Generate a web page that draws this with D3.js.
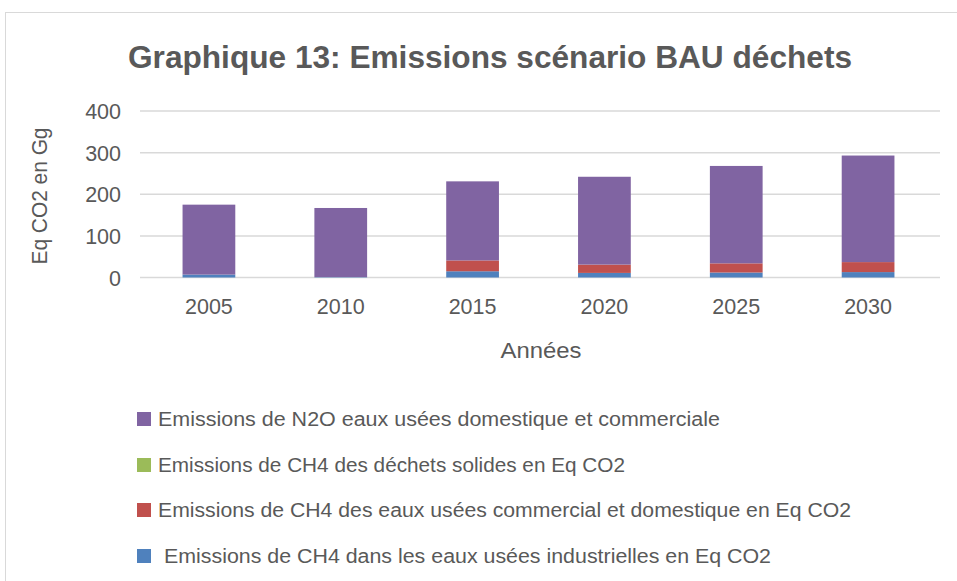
<!DOCTYPE html>
<html><head><meta charset="utf-8">
<script src="https://cdn.jsdelivr.net/npm/d3@7"></script>
<style>body{margin:0;background:#fff}svg{display:block}text{font-family:"Liberation Sans","DejaVu Sans",sans-serif;fill:#595959}</style>
</head><body>
<svg id="c" width="957" height="581"></svg>
<script>
const years = ["2005","2010","2015","2020","2025","2030"];
const seriesNames = [
  " Emissions de CH4 dans les eaux usées industrielles en Eq CO2",
  "Emissions de CH4 des eaux usées commercial et domestique en Eq CO2",
  "Emissions de CH4 des déchets solides en Eq CO2",
  "Emissions de N2O eaux usées domestique et commerciale"
];
const industrial = [7, 1, 15, 11, 12, 13];
const domestic   = [0, 0, 26, 20, 22, 24];
const solid      = [0, 0, 0, 0, 0, 0];
const n2o        = [168, 166, 190, 211, 234, 256];
const colors = ["#4f81bd", "#c0504d", "#9bbb59", "#8064a2"];
const yTicks = [0, 100, 200, 300, 400];

const svg = d3.select("#c");
svg.append("rect").attr("x",5.5).attr("y",12.5).attr("width",1000).attr("height",700)
  .attr("fill","#fff").attr("stroke","#d9d9d9");

const x = d3.scaleBand().domain(years).range([143, 934]).paddingInner(0.6).paddingOuter(0.3);
const y = d3.scaleLinear().domain([0, 400]).range([277.5, 111]);

// gridlines
svg.append("g").selectAll("line").data(yTicks).join("line")
  .attr("x1", 140).attr("x2", 940).attr("y1", d => y(d)).attr("y2", d => y(d))
  .attr("stroke", "#d9d9d9").attr("stroke-width", 1.5);

const rows = years.map((yr, i) => ({year: yr, s0: industrial[i], s1: domestic[i], s2: solid[i], s3: n2o[i]}));
const stack = d3.stack().keys(["s0","s1","s2","s3"])(rows);
svg.append("g").selectAll("g").data(stack).join("g")
  .attr("fill", (d, i) => colors[i])
  .selectAll("rect").data(d => d).join("rect")
  .attr("x", d => x(d.data.year)).attr("width", x.bandwidth())
  .attr("y", d => y(d[1])).attr("height", d => y(d[0]) - y(d[1]));

// y axis labels
const yAxis = svg.append("g").attr("transform", "translate(121,0)")
  .call(d3.axisLeft(y).tickValues(yTicks).tickSize(0).tickPadding(0));
yAxis.select(".domain").remove();
yAxis.selectAll("text").style("font-size", "21.5px").style("fill", "#595959")
  .style("font-family", '"Liberation Sans", sans-serif').attr("dy", "0.35em");

// x axis labels
const xAxis = svg.append("g").attr("transform", "translate(0,283)")
  .call(d3.axisBottom(x).tickSize(0).tickPadding(16));
xAxis.select(".domain").remove();
xAxis.selectAll("text").style("font-size", "21.5px").style("fill", "#595959")
  .style("font-family", '"Liberation Sans", sans-serif');

// titles
svg.append("text").attr("x", 490).attr("y", 68).attr("text-anchor", "middle")
  .attr("font-weight", "bold").attr("font-size", "32px")
  .attr("textLength", 724).attr("lengthAdjust", "spacingAndGlyphs")
  .text("Graphique 13: Emissions scénario BAU déchets");
svg.append("text").attr("transform", "translate(47,196) rotate(-90)").attr("text-anchor", "middle")
  .attr("font-size", "21.5px").attr("textLength", 137).attr("lengthAdjust", "spacingAndGlyphs")
  .text("Eq CO2 en Gg");
svg.append("text").attr("x", 541).attr("y", 358).attr("text-anchor", "middle")
  .attr("font-size", "22px").attr("textLength", 81).attr("lengthAdjust", "spacingAndGlyphs")
  .text("Années");

// legend (reverse order)
const legendY = [419, 465, 510, 556];
const legendLen = [562, 467, 693, 607];
const leg = svg.append("g").selectAll("g").data([3,2,1,0]).join("g")
  .attr("transform", (d, i) => `translate(137,${legendY[i]})`);
leg.append("rect").attr("x", 0).attr("y", -7).attr("width", 14).attr("height", 14).attr("fill", d => colors[d]);
leg.append("text").attr("x", (d, i) => i === 3 ? 27 : 21).attr("y", 0).attr("dy", "0.35em")
  .attr("font-size", "19.5px")
  .attr("textLength", (d, i) => legendLen[i]).attr("lengthAdjust", "spacingAndGlyphs")
  .text(d => seriesNames[d].trim());
</script>
</body></html>
